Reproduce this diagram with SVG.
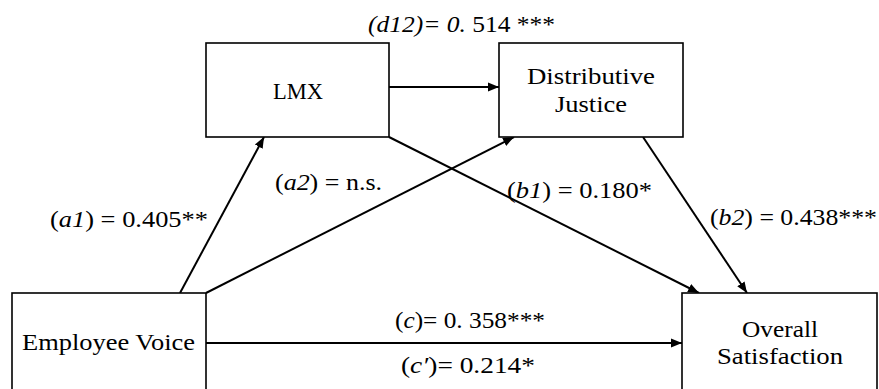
<svg xmlns="http://www.w3.org/2000/svg" width="879" height="389" viewBox="0 0 879 389">
<style>
.box{fill:#fff;stroke:#000;stroke-width:1.6}
.ln{stroke:#000;stroke-width:2;fill:none}
text{font-family:"Liberation Serif","Times New Roman",serif;font-size:24px;fill:#000}
.i{font-style:italic}
</style>
<defs>
<marker id="ah" viewBox="0 0 10 10" refX="10" refY="5" markerWidth="5.5" markerHeight="5.5" markerUnits="strokeWidth" orient="auto">
<path d="M0,1 L10,5 L0,9 z" fill="#000"/>
</marker>
</defs>
<rect width="879" height="389" fill="#fff"/>
<g id="connectors">
<line class="ln" x1="389" y1="87" x2="499" y2="87" marker-end="url(#ah)"/>
<line class="ln" x1="180" y1="293" x2="264" y2="137" marker-end="url(#ah)"/>
<line class="ln" x1="206" y1="293" x2="514" y2="137" marker-end="url(#ah)"/>
<line class="ln" x1="389" y1="137" x2="699" y2="293" marker-end="url(#ah)"/>
<line class="ln" x1="643" y1="137" x2="747" y2="293" marker-end="url(#ah)"/>
<line class="ln" x1="206" y1="343" x2="682" y2="343" marker-end="url(#ah)"/>
</g>
<g id="lmx">
<rect class="box" x="206" y="43" width="183" height="94"/>
<text x="273" y="99" textLength="50" lengthAdjust="spacingAndGlyphs">LMX</text>
</g>
<g id="distributive-justice">
<rect class="box" x="499" y="43" width="184" height="94"/>
<text x="527" y="84" textLength="128" lengthAdjust="spacingAndGlyphs">Distributive</text>
<text x="555" y="112" textLength="72" lengthAdjust="spacingAndGlyphs">Justice</text>
</g>
<g id="employee-voice">
<rect class="box" x="12" y="293" width="194" height="110"/>
<text x="22" y="350" textLength="173" lengthAdjust="spacingAndGlyphs">Employee Voice</text>
</g>
<g id="overall-satisfaction">
<rect class="box" x="682" y="293" width="195" height="110"/>
<text x="742" y="337" textLength="76" lengthAdjust="spacingAndGlyphs">Overall</text>
<text x="717" y="364" textLength="126" lengthAdjust="spacingAndGlyphs">Satisfaction</text>
</g>
<g id="labels">
<text x="368" y="32" textLength="187" lengthAdjust="spacingAndGlyphs"><tspan class="i">(d12)= 0.</tspan> 514 ***</text>
<text x="50" y="227" textLength="158" lengthAdjust="spacingAndGlyphs">(<tspan class="i">a1</tspan>) = 0.405**</text>
<text x="275" y="190" textLength="107" lengthAdjust="spacingAndGlyphs">(<tspan class="i">a2</tspan>) = n.s.</text>
<text x="507" y="198" textLength="145" lengthAdjust="spacingAndGlyphs">(<tspan class="i">b1</tspan>) = 0.180*</text>
<text x="710" y="225" textLength="167" lengthAdjust="spacingAndGlyphs">(<tspan class="i">b2</tspan>) = 0.438***</text>
<text x="395" y="328" textLength="150" lengthAdjust="spacingAndGlyphs">(<tspan class="i">c</tspan>)= 0. 358***</text>
<text x="401" y="373" textLength="134" lengthAdjust="spacingAndGlyphs">(<tspan class="i">c′</tspan>)= 0.214*</text>
</g>
</svg>
